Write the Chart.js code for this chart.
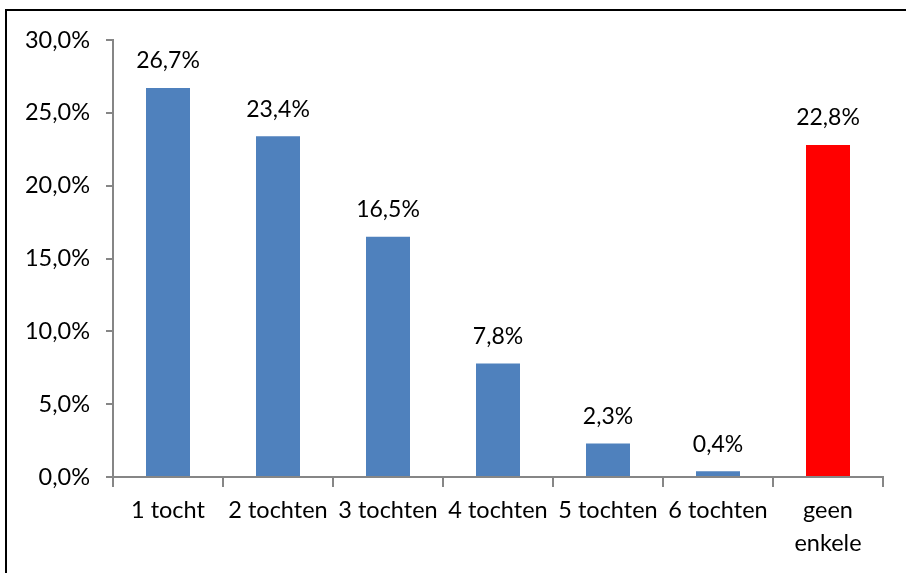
<!DOCTYPE html>
<html>
<head>
<meta charset="utf-8">
<script src="https://cdn.jsdelivr.net/npm/chart.js@4/dist/chart.umd.min.js"></script>
<style>
  html, body { margin: 0; padding: 0; background: #fff; }
  #wrap { width: 906px; height: 573px; position: relative; }
</style>
</head>
<body>
<div id="wrap"><canvas id="chartCanvas" width="906" height="573"></canvas></div>
<script>
const categories = ['1 tocht', '2 tochten', '3 tochten', '4 tochten', '5 tochten', '6 tochten', ['geen', 'enkele']];
const percentages = [26.7, 23.4, 16.5, 7.8, 2.3, 0.4, 22.8];
const barColors = ['#4F81BD', '#4F81BD', '#4F81BD', '#4F81BD', '#4F81BD', '#4F81BD', '#FF0000'];

const FONT = 'Lato';
const AXIS = '#868686';

function pct(v) {
    return v.toFixed(1).replace('.', ',') + '%';
}

// frame lines (top + left only, like the original picture)
const framePlugin = {
    id: 'frame',
    beforeDraw(chart) {
        const c = chart.ctx;
        c.save();
        c.fillStyle = '#fff';
        c.fillRect(0, 0, chart.width, chart.height);
        c.strokeStyle = '#000';
        c.lineWidth = 2;
        c.beginPath();
        c.moveTo(6, chart.height);
        c.lineTo(6, 10);
        c.lineTo(chart.width, 10);
        c.stroke();
        c.restore();
    }
};

// value labels above each bar
const valueLabels = {
    id: 'valueLabels',
    afterDatasetsDraw(chart) {
        const c = chart.ctx;
        const meta = chart.getDatasetMeta(0);
        c.save();
        c.font = '23px ' + FONT;
        c.fillStyle = '#000';
        c.textAlign = 'center';
        c.textBaseline = 'middle';
        meta.data.forEach((bar, i) => {
            c.fillText(pct(percentages[i]), bar.x, bar.y - 27);
        });
        c.restore();
    }
};

const ctx = document.getElementById('chartCanvas').getContext('2d');

let chart = new Chart(ctx, {
    type: 'bar',
    data: {
        labels: categories,
        datasets: [{
            data: percentages,
            backgroundColor: barColors,
            borderWidth: 0,
            barPercentage: 0.4,
            categoryPercentage: 1
        }]
    },
    options: {
        responsive: false,
        animation: false,
        layout: { padding: { left: 0, right: 23, top: 40, bottom: 0 } },
        plugins: {
            legend: { display: false },
            tooltip: { enabled: false }
        },
        scales: {
            x: {
                grid: {
                    display: true,
                    drawOnChartArea: false,
                    offset: true,
                    color: AXIS,
                    lineWidth: 2,
                    tickLength: 10
                },
                border: { color: AXIS, width: 2 },
                ticks: {
                    color: '#000',
                    font: { family: FONT, size: 23.5, lineHeight: 1.4 },
                    padding: 7,
                    maxRotation: 0,
                    autoSkip: false
                },
                afterFit(scale) { scale.height = 96; }
            },
            y: {
                min: 0,
                max: 30,
                grid: {
                    display: true,
                    drawOnChartArea: false,
                    color: AXIS,
                    lineWidth: 2,
                    tickLength: 7
                },
                border: { color: AXIS, width: 2 },
                ticks: {
                    stepSize: 5,
                    color: '#000',
                    font: { family: FONT, size: 23.5 },
                    padding: 16,
                    callback: v => pct(v)
                },
                afterFit(scale) { scale.width = 113; }
            }
        }
    },
    plugins: [framePlugin, valueLabels]
});
</script>
</body>
</html>
